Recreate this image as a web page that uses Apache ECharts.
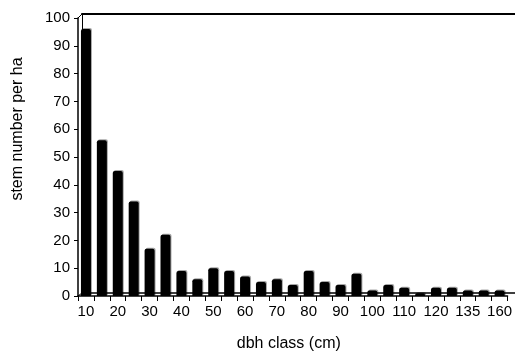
<!DOCTYPE html>
<html>
<head>
<meta charset="utf-8">
<script src="https://cdn.jsdelivr.net/npm/echarts@6/dist/echarts.min.js"></script>
<style>
  html, body { margin: 0; padding: 0; background: #fff; }
  #chart { width: 515px; height: 359px; }
</style>
</head>
<body>
<div id="chart"></div>
<script>
// Diameter classes (cm) and stem density per hectare
var dbhClasses = ['10','15','20','25','30','35','40','45','50','55','60','65','70','75','80','85','90','95','100','105','110','115','120','125','135','150','160'];
var stemsPerHa = [96, 56, 45, 34, 17, 22, 9, 6, 10, 9, 7, 5, 6, 4, 9, 5, 4, 8, 2, 4, 3, 1, 3, 3, 2, 2, 2];
var yTicks = { min: 0, max: 100, interval: 10 };

var FONT = 'Liberation Sans, Arial, sans-serif';
var chart = echarts.init(document.getElementById('chart'));

var plotLeft = 78, plotTop = 18, plotRight = 1, plotBottom = 63;
var depth = 4; // offset of the back wall for the pseudo-3D frame

chart.setOption({
  animation: false,
  backgroundColor: '#fff',
  grid: [
    { left: plotLeft, top: plotTop, right: plotRight, bottom: plotBottom },
    { left: plotLeft + depth, top: plotTop - 4, right: 0, bottom: plotBottom + 3 }
  ],
  xAxis: [
    {
      type: 'category',
      gridIndex: 0,
      data: dbhClasses,
      boundaryGap: true,
      name: 'dbh class (cm)',
      nameLocation: 'middle',
      nameGap: 40,
      nameTextStyle: { fontFamily: FONT, fontSize: 16, color: '#000', padding: [0, 8, 0, 0] },
      axisLine: { lineStyle: { color: '#000', width: 1.5 } },
      axisTick: { show: true, interval: 0, length: 5, lineStyle: { color: '#000', width: 1 } },
      axisLabel: { interval: 1, margin: 8, fontFamily: FONT, fontSize: 15, color: '#000' }
    },
    {
      type: 'value', gridIndex: 1, min: 0, max: 1, position: 'bottom',
      axisLine: { show: true, onZero: false, lineStyle: { color: '#000', width: 1.5 } },
      axisTick: { show: false }, axisLabel: { show: false }, splitLine: { show: false }
    },
    {
      type: 'value', gridIndex: 1, min: 0, max: 1, position: 'top',
      axisLine: { show: true, onZero: false, lineStyle: { color: '#000', width: 2 } },
      axisTick: { show: false }, axisLabel: { show: false }, splitLine: { show: false }
    }
  ],
  yAxis: [
    {
      type: 'value',
      gridIndex: 0,
      min: yTicks.min,
      max: yTicks.max,
      interval: yTicks.interval,
      name: 'stem number per ha',
      nameLocation: 'middle',
      nameGap: 52,
      nameRotate: 90,
      nameTextStyle: { fontFamily: FONT, fontSize: 16, color: '#000', padding: [0, 0, 0, 56] },
      axisLine: { show: true, lineStyle: { color: '#000', width: 1.5 } },
      axisTick: { show: true, length: 4, lineStyle: { color: '#000', width: 1 } },
      axisLabel: { margin: 8, fontFamily: FONT, fontSize: 15, color: '#000' },
      splitLine: { show: false }
    },
    {
      type: 'value', gridIndex: 1, min: 0, max: 1, position: 'left',
      axisLine: { show: true, onZero: false, lineStyle: { color: '#000', width: 1 } },
      axisTick: { show: false }, axisLabel: { show: false }, splitLine: { show: false }
    }
  ],
  series: [
    {
      type: 'bar',
      xAxisIndex: 0,
      yAxisIndex: 0,
      data: stemsPerHa,
      barWidth: 10,
      itemStyle: {
        color: '#000',
        borderRadius: [2, 2, 0, 0],
        shadowColor: 'rgba(0,0,0,0.35)',
        shadowOffsetX: 1,
        shadowOffsetY: -1,
        shadowBlur: 0
      }
    }
  ]
});

// Diagonal edges joining the front axes to the back wall
var g0 = chart.getModel().getComponent('grid', 0).coordinateSystem.getRect();
var g1 = chart.getModel().getComponent('grid', 1).coordinateSystem.getRect();
chart.setOption({
  graphic: [
    { type: 'line', shape: { x1: g0.x, y1: g0.y + g0.height, x2: g1.x, y2: g1.y + g1.height }, style: { stroke: '#000', lineWidth: 1 } },
    { type: 'line', shape: { x1: g0.x, y1: g0.y, x2: g1.x, y2: g1.y }, style: { stroke: '#000', lineWidth: 1 } }
  ]
});
</script>
</body>
</html>
